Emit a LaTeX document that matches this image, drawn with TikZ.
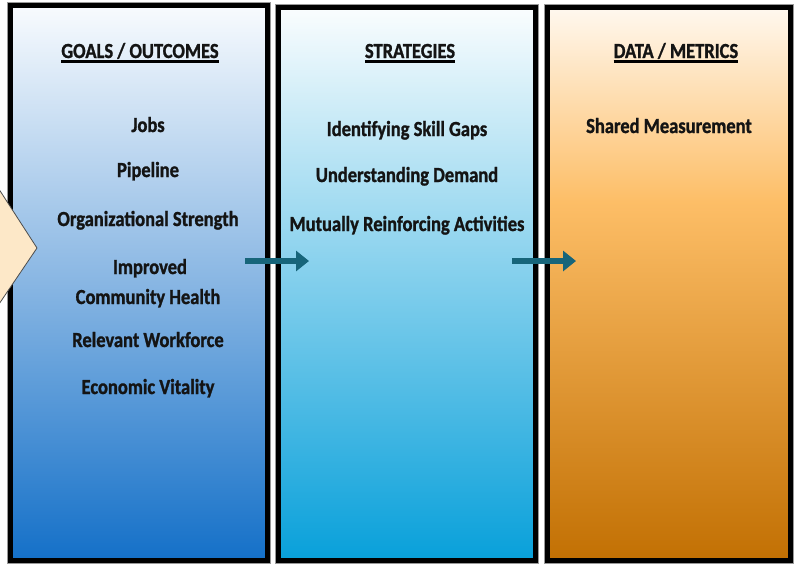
\documentclass[tikz,border=0pt]{standalone}
\usepackage{fontspec}
\setmainfont{Carlito}[FakeStretch=0.86, BoldFeatures={FakeBold=1.2}]
\usetikzlibrary{arrows.meta}

\definecolor{gtop}{HTML}{F8FBFE}
\definecolor{gmid}{HTML}{88B6E3}
\definecolor{gbot}{HTML}{1470C8}
\definecolor{stop}{HTML}{FAFDFE}
\definecolor{smid}{HTML}{80CEEC}
\definecolor{sbot}{HTML}{08A0DA}
\definecolor{dtop}{HTML}{FFF8EF}
\definecolor{dmid}{HTML}{FDBE67}
\definecolor{dbot}{HTML}{C27003}
\definecolor{peach}{HTML}{FDE8C8}
\definecolor{arrowteal}{HTML}{17657A}

\pgfdeclareverticalshading{goalsfade}{100bp}{color(0bp)=(gbot); color(25bp)=(gbot); color(50bp)=(gmid); color(75bp)=(gtop); color(100bp)=(gtop)}
\pgfdeclareverticalshading{stratfade}{100bp}{color(0bp)=(sbot); color(25bp)=(sbot); color(50bp)=(smid); color(75bp)=(stop); color(100bp)=(stop)}
\pgfdeclareverticalshading{datafade}{100bp}{color(0bp)=(dbot); color(25bp)=(dbot); color(57.5bp)=(dmid); color(75bp)=(dtop); color(100bp)=(dtop)}

\begin{document}
\begin{tikzpicture}[x=1pt,y=-1pt,
  panel/.style={draw=black, line width=5pt, outer sep=0pt, inner sep=0pt},
  halo/.style={draw=black!40, line width=0.8pt},
  chev/.style={fill=peach, draw=black!70, line width=0.8pt},
  item/.style={anchor=base, inner sep=0pt, text=black!92,
    font=\fontsize{21.5}{24}\selectfont\bfseries},
  uline/.style={line width=3.2pt, draw=black},
  flowarrow/.style={draw=arrowteal, line width=6pt,
    -{Triangle[length=13pt,width=20pt]}}
]
\useasboundingbox (0,0) rectangle (798,563);

% the three column panels
\node[panel, shade, shading=goalsfade, minimum width=257pt, minimum height=555pt] (goals) at (139,283) {};
\node[panel, shade, shading=stratfade, minimum width=257pt, minimum height=553pt] (strat) at (407,284) {};
\node[panel, shade, shading=datafade, minimum width=243pt, minimum height=553pt] (data) at (669,284) {};

\foreach \p in {goals,strat,data}
  \draw[halo] ([shift={(-3,-3)}]\p.north west) rectangle ([shift={(3,3)}]\p.south east);

% incoming chevron on the left edge
\draw[chev] (-5,183) -- (37,248) -- (-5,310);

% flow arrows between the columns
\coordinate (g2s) at (245,261);
\coordinate (g2e) at (309,261);
\coordinate (s2s) at (512,261);
\coordinate (s2e) at (576,261);
\draw[flowarrow] (g2s) -- (g2e);
\draw[flowarrow] (s2s) -- (s2e);

% column headings
\node[item] (hgoals) at (140,58) {GOALS / OUTCOMES};
\node[item] (hstrat) at (410,58) {STRATEGIES};
\node[item] (hdata) at (676,58) {DATA / METRICS};
\foreach \h in {hgoals,hstrat,hdata}
  \draw[uline] ([yshift=-3.2pt]\h.base west) -- ([yshift=-3.2pt]\h.base east);

% goals / outcomes
\node[item] (jobs) at (148,132) {Jobs};
\node[item] (pipe) at (148,177) {Pipeline};
\node[item] (orgs) at (148,226) {Organizational Strength};
\node[item] (impr) at (150,274) {Improved};
\node[item] (comm) at (148,304) {Community Health};
\node[item] (work) at (148,347) {Relevant Workforce};
\node[item] (econ) at (148,394) {Economic Vitality};

% strategies
\node[item] (skill) at (407,136) {Identifying Skill Gaps};
\node[item] (dem) at (407,182) {Understanding Demand};
\node[item] (mut) at (407,231) {Mutually Reinforcing Activities};

% data / metrics
\node[item] (meas) at (669,133) {Shared Measurement};
\end{tikzpicture}
\end{document}
